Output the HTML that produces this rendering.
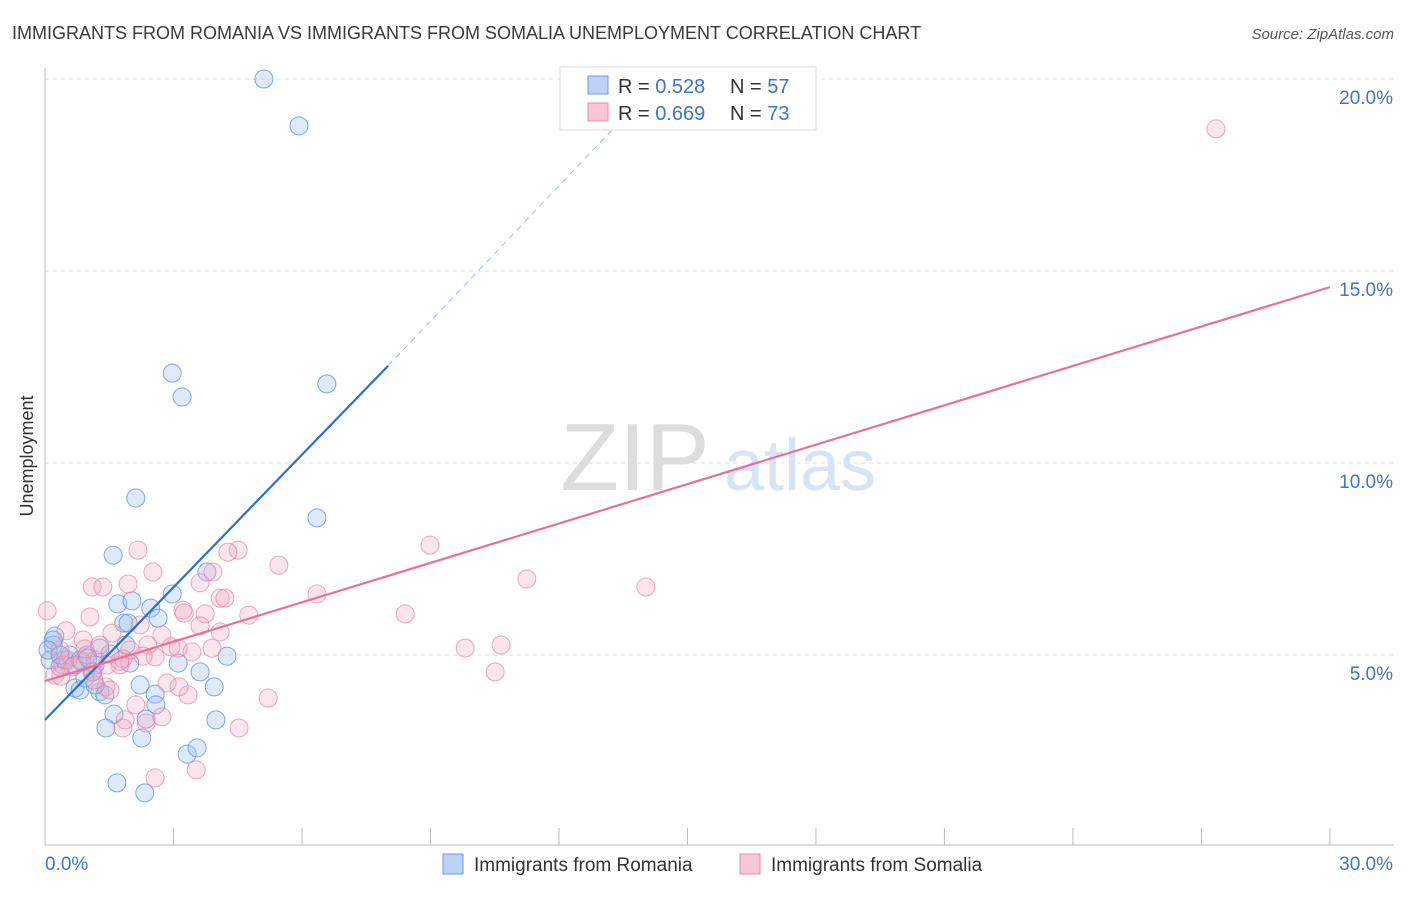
<!DOCTYPE html>
<html><head><meta charset="utf-8"><style>
body{margin:0;background:#fff;font-family:"Liberation Sans",sans-serif;}
svg text{font-family:"Liberation Sans",sans-serif;}
</style></head><body>
<svg id="chart" width="1406" height="892">
<text x="12" y="39" font-size="18" fill="#3a3a3a">IMMIGRANTS FROM ROMANIA VS IMMIGRANTS FROM SOMALIA UNEMPLOYMENT CORRELATION CHART</text>
<text x="1394" y="39" font-size="15" fill="#555" font-style="italic" text-anchor="end">Source: ZipAtlas.com</text>
<text x="33" y="456" font-size="18" fill="#333" transform="rotate(-90 33 456)" text-anchor="middle">Unemployment</text>
<g><text x="635" y="490" font-size="96" fill="#ddd" font-family="Liberation Serif" text-anchor="middle">ZIP</text><text x="800" y="490" font-size="72" fill="#d6e4f5" text-anchor="middle">atlas</text></g>
<g id="grid"></g><g id="axes"></g><g id="pts"></g><g id="lines"></g>
<g>
<rect x="560" y="67" width="256" height="63" fill="#fff" stroke="#ddd"/>
<rect x="588" y="76" width="20" height="18" fill="#bcd3f5" stroke="#6c9ae0"/>
<text x="618" y="93" font-size="20" fill="#333">R = <tspan fill="#3d75c9">0.528</tspan></text>
<text x="730" y="93" font-size="20" fill="#333">N = <tspan fill="#3d75c9">57</tspan></text>
<rect x="588" y="103" width="20" height="18" fill="#f8c6d6" stroke="#e88aa8"/>
<text x="618" y="120" font-size="20" fill="#333">R = <tspan fill="#3d75c9">0.669</tspan></text>
<text x="730" y="120" font-size="20" fill="#333">N = <tspan fill="#3d75c9">73</tspan></text>
</g>
<g><rect x="443" y="854" width="20" height="20" fill="#bcd3f5" stroke="#6c9ae0"/><text x="474" y="871" font-size="19" fill="#333">Immigrants from Romania</text></g>
<g><rect x="740" y="854" width="20" height="20" fill="#f8c6d6" stroke="#e88aa8"/><text x="771" y="871" font-size="19" fill="#333">Immigrants from Somalia</text></g>
</svg>
<script>
const romX=[5.11,5.93,2.97,3.20,6.58,2.12,6.35,1.59,3.78,2.97,1.70,2.03,2.47,2.64,1.84,1.89,1.52,1.98,3.11,3.62,4.25,0.23,0.19,0.12,0.35,0.47,0.58,0.70,0.82,0.98,1.17,1.10,0.70,0.82,1.28,1.40,1.17,2.22,2.57,2.59,3.95,1.61,2.36,1.42,2.26,3.99,3.32,3.55,1.68,2.33,0.19,0.07,0.93,1.28,1.00,0.35,1.94];
const romY=[20.0,18.78,12.34,11.72,12.06,9.09,8.57,7.60,7.16,6.59,6.33,6.41,6.22,5.96,5.83,5.26,5.03,4.79,4.79,4.56,4.97,5.49,5.26,4.87,4.69,4.87,5.0,4.74,4.87,5.0,4.74,4.56,4.14,4.09,4.04,3.96,4.22,4.22,3.98,3.70,4.17,3.46,3.33,3.10,2.84,3.31,2.42,2.58,1.67,1.41,5.39,5.13,4.40,5.18,4.92,5.0,5.83];
const somX=[27.34,0.05,2.17,4.51,4.27,8.99,5.46,2.52,1.94,1.10,1.35,3.62,3.92,6.35,11.25,14.03,4.09,4.20,3.22,3.25,3.74,4.76,8.41,1.05,2.22,2.73,3.62,4.09,0.49,0.89,1.56,2.40,3.11,3.90,10.65,9.81,2.57,3.43,1.98,1.75,1.17,1.28,0.54,0.23,0.42,0.65,1.82,1.12,0.86,0.37,10.51,1.42,1.14,1.52,3.34,2.85,3.13,2.12,2.73,2.36,1.87,1.82,4.53,5.21,2.57,3.53,2.94,2.29,0.93,1.45,0.35,1.75];
const somY=[18.70,6.15,7.73,7.73,7.68,7.86,7.34,7.16,6.85,6.77,6.77,6.88,7.16,6.59,6.98,6.77,6.48,6.48,6.17,6.09,6.07,6.04,6.07,5.99,5.78,5.52,5.76,5.60,5.63,5.39,5.57,5.26,5.18,5.18,5.26,5.18,4.95,5.08,5.13,4.74,4.87,5.26,4.87,4.48,4.74,4.69,4.90,4.56,4.82,4.45,4.56,4.17,4.35,4.09,3.96,4.27,4.17,3.70,3.39,3.23,3.31,3.10,3.10,3.88,1.80,2.01,5.21,4.97,5.16,4.74,5.13,4.84];
const yTicks=[5,10,15,20];
const xTickLabels=["0.0%","30.0%"];
const romLine=[0,3.31,8.01,12.53,13.9,19.45];
const somLine=[0,4.32,30,14.58];
const X=v=>45+v*42.83, Y=v=>655-(v-5)*38.4;
const NS="http://www.w3.org/2000/svg";
function mk(t,a,p){const e=document.createElementNS(NS,t);for(const k in a)e.setAttribute(k,a[k]);p.appendChild(e);return e;}
const grid=document.getElementById('grid'),axes=document.getElementById('axes'),pts=document.getElementById('pts'),lines=document.getElementById('lines');
yTicks.forEach(v=>{
 const l=mk('line',{x1:45,x2:1394,y1:Y(v),y2:Y(v),stroke:'#ddd','stroke-dasharray':'4 4'},grid);
 
 
 const t=mk('text',{x:1393,y:Y(v)+25,'font-size':19,fill:'#3d75c9','text-anchor':'end'},axes);t.textContent=v.toFixed(1)+'%';
 
 
});
mk('line',{x1:45,x2:45,y1:68,y2:845,stroke:'#bbb'},axes);
mk('line',{x1:45,x2:1394,y1:845,y2:845,stroke:'#bbb'},axes);
for(let i=0;i<=10;i++){const x=X(i*3);const tk=mk('line',{x1:x,x2:x,y1:828,y2:845,stroke:'#bbb'},axes);
 
 }
[[0,'start'],[30,'end']].forEach((d,i)=>{const t=mk('text',{x:d[0]?1393:45,y:870,'font-size':19,fill:'#3d75c9','text-anchor':d[1]},axes);t.textContent=xTickLabels[i];
 
 });
romX.forEach((v,i)=>{const c=mk('circle',{cx:X(v),cy:Y(romY[i]),r:9,fill:'rgba(160,195,240,0.35)',stroke:'rgba(80,135,215,0.7)','stroke-width':1},pts);
 
 });
somX.forEach((v,i)=>{const c=mk('circle',{cx:X(v),cy:Y(somY[i]),r:9,fill:'rgba(245,170,195,0.3)',stroke:'rgba(230,130,165,0.7)','stroke-width':1},pts);
 
 });
const b1=mk('line',{x1:X(romLine[0]),y1:Y(romLine[1]),x2:X(romLine[2]),y2:Y(romLine[3]),stroke:'#2a6fd6','stroke-width':2.2},lines);


const b2=mk('line',{x1:X(romLine[2]),y1:Y(romLine[3]),x2:X(romLine[4]),y2:Y(romLine[5]),stroke:'#9bbbe8','stroke-width':1,'stroke-dasharray':'6 5'},lines);


const p1=mk('line',{x1:X(somLine[0]),y1:Y(somLine[1]),x2:X(somLine[2]),y2:Y(somLine[3]),stroke:'#e8709a','stroke-width':2.2},lines);


</script>
</body></html>
